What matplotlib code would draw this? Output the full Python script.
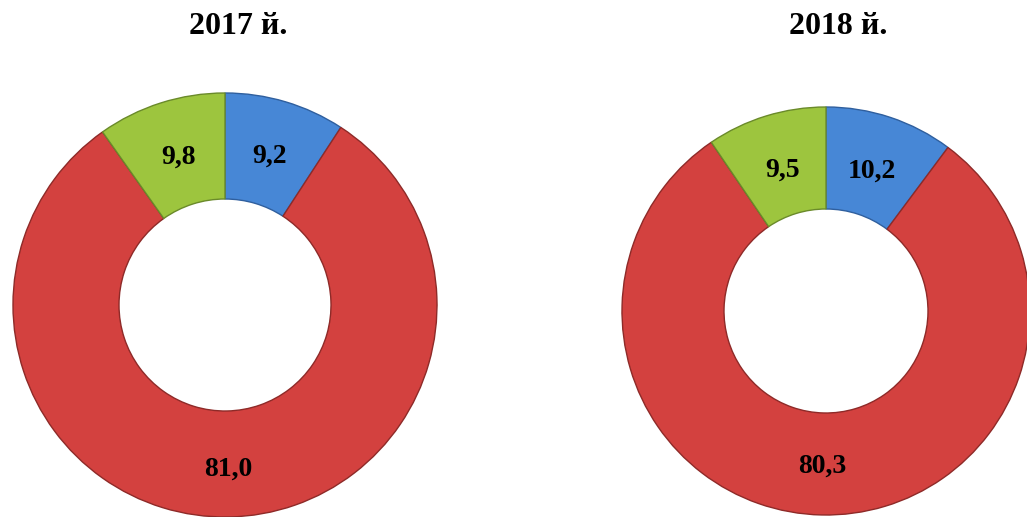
import matplotlib

matplotlib.use("Agg")
import matplotlib.pyplot as plt

# ---- data ------------------------------------------------------------------
YEARS = ["2017 й.", "2018 й."]
# segment order: blue, red, green (clockwise from 12 o'clock)
VALUES_2017 = [9.2, 81.0, 9.8]
VALUES_2018 = [10.2, 80.3, 9.5]
COLORS = ["#4787d6", "#d3413f", "#9dc53e"]
EDGES = ["#2f5f9e", "#8e2a28", "#6a8a2a"]

plt.rcParams["font.family"] = ["Liberation Serif", "DejaVu Serif"]

W, H = 1027, 517
fig = plt.figure(figsize=(W / 100, H / 100), dpi=100)
fig.patch.set_facecolor("white")


def px_axes(cx, cy, r):
    """Axes square around a centre given in pixel coords (y from top)."""
    return fig.add_axes([(cx - r) / W, (H - cy - r) / H, 2 * r / W, 2 * r / H])


def fmt(p):
    return f"{p:.1f}".replace(".", ",")


# (donut centre x, centre y, radius), title position, values, label radius
layout = [((225, 305, 212), (238, 26), YEARS[0], VALUES_2017, 0.73),
          ((826, 311, 204), (838, 26), YEARS[1], VALUES_2018, 0.72)]

for (cx, cy, r), (tx, ty), title, vals, pd in layout:
    ax = px_axes(cx, cy, r)
    wedges, _, autotexts = ax.pie(
        vals, colors=COLORS, startangle=90, counterclock=False,
        autopct=fmt, pctdistance=pd, radius=1.0,
        wedgeprops=dict(width=0.5, linewidth=1.0),
        textprops=dict(fontsize=20, fontweight="bold", color="black"),
    )
    for w, ec in zip(wedges, EDGES):
        w.set_edgecolor(ec)
    # the big red label sits a little lower in the ring
    x, y = autotexts[1].get_position()
    autotexts[1].set_position((x * 1.06, y * 1.06))
    ax.set_xlim(-1.0, 1.0)
    ax.set_ylim(-1.0, 1.0)
    ax.set_aspect("equal")
    ax.axis("off")
    fig.text(tx / W, 1 - ty / H, title, ha="center", va="center",
             fontsize=23, fontweight="bold")

fig.savefig("out.png", dpi=100)
